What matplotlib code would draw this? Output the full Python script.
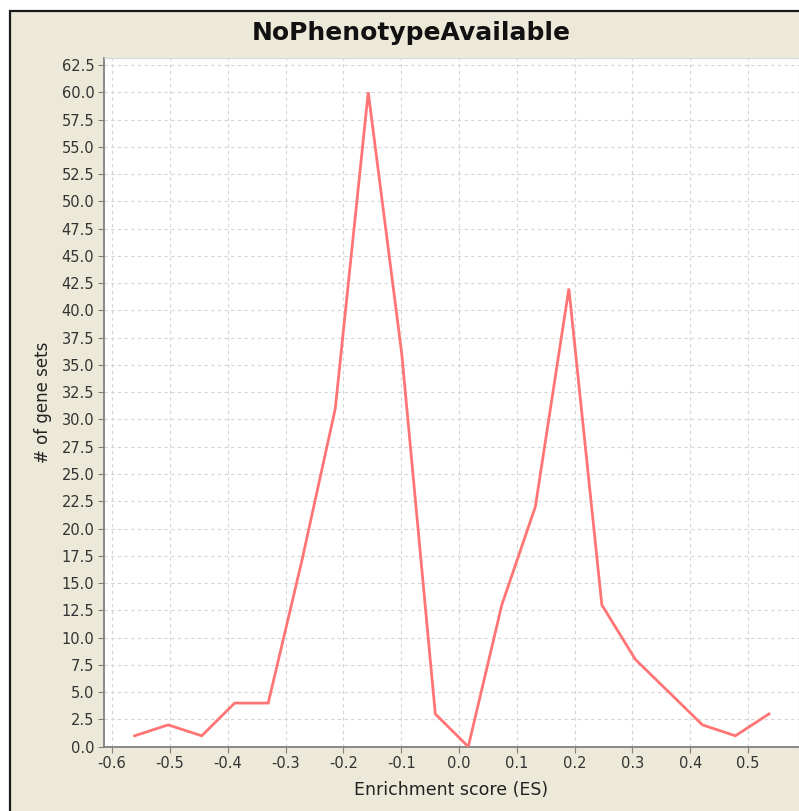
import matplotlib
matplotlib.use("Agg")
import matplotlib.pyplot as plt
from matplotlib.patches import Rectangle
from matplotlib.ticker import FixedLocator, FormatStrFormatter

plt.rcParams['font.family'] = ['DejaVu Sans']

# Histogram of enrichment scores (bin centres and counts)
es_centers = [-0.561, -0.503, -0.445, -0.388, -0.330, -0.272, -0.214, -0.157,
              -0.099, -0.041, 0.016, 0.074, 0.132, 0.190, 0.247, 0.305,
              0.363, 0.421, 0.478, 0.536]
gene_set_counts = [1, 2, 1, 4, 4, 17, 31, 60, 36, 3, 0, 13, 22, 42, 13, 8,
                   5, 2, 1, 3]

x_ticks = [-0.6, -0.5, -0.4, -0.3, -0.2, -0.1, 0.0, 0.1, 0.2, 0.3, 0.4, 0.5]
y_ticks = [i * 2.5 for i in range(26)]

title = "NoPhenotypeAvailable"
x_label = "Enrichment score (ES)"
y_label = "# of gene sets"

W, H = 799, 811
fig = plt.figure(figsize=(W / 100, H / 100), dpi=100, facecolor="white")

# beige chart panel with dark border on the top/left
panel = Rectangle((10 / W, -0.01), 1 - 10 / W + 0.01, 1 - 11 / H + 0.01,
                  transform=fig.transFigure, facecolor="#ECE9D8",
                  edgecolor="#1a1a1a", linewidth=1.6, zorder=-10)
fig.patches.append(panel)

left, right = 104 / W, 1.0
bottom, top = (H - 746.7) / H, (H - 58) / H
ax = fig.add_axes([left, bottom, right - left, top - bottom])
ax.set_facecolor("white")

ax.plot(es_centers, gene_set_counts, color="#FF7575", linewidth=2.0,
        solid_joinstyle="miter", zorder=3)

ax.set_xlim(-0.614, 0.588)
ax.set_ylim(0, 63.14)
ax.xaxis.set_major_locator(FixedLocator(x_ticks))
ax.yaxis.set_major_locator(FixedLocator(y_ticks))
ax.xaxis.set_major_formatter(FormatStrFormatter("%.1f"))
ax.yaxis.set_major_formatter(FormatStrFormatter("%.1f"))

ax.grid(True, color="#D4D4D4", linestyle=(0, (3, 3)), linewidth=0.8, zorder=1)

for side in ("top", "right"):
    ax.spines[side].set_color("#D8D8D8")
    ax.spines[side].set_linewidth(0.8)
for side in ("left", "bottom"):
    ax.spines[side].set_color("#808080")
    ax.spines[side].set_linewidth(1.3)

ax.tick_params(axis="both", direction="out", length=4, width=0.8,
               color="#808080", labelsize=10.5, labelcolor="#333333", pad=3)

ax.set_xlabel(x_label, fontsize=12.5, color="#222222", labelpad=7)
ax.set_ylabel(y_label, fontsize=12, color="#222222", labelpad=7)

fig.text(411.5 / W, 1 - 33 / H, title, ha="center", va="center",
         fontsize=18, fontweight="bold", color="#111111")

fig.savefig("out.png", dpi=100, facecolor=fig.get_facecolor())
